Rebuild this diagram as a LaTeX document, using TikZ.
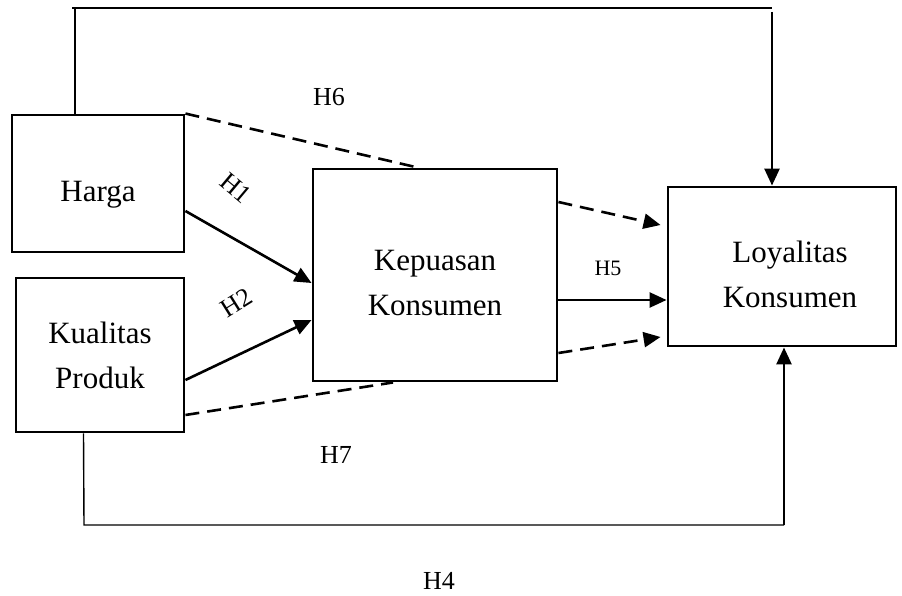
\documentclass[tikz,border=0pt]{standalone}
\usepackage{fontspec}
\setmainfont{Liberation Serif}
\usetikzlibrary{arrows.meta,calc}
% box caption: lowered by #1 pt without changing the box size
\newcommand\bxlabel[2]{\raisebox{-#1pt}[\height][\depth]{\begin{tabular}{@{}c@{}}#2\end{tabular}}}
\begin{document}
\begin{tikzpicture}[x=1pt,y=-1pt,
  box/.style={draw,line width=2.9pt,inner sep=0pt,font=\fontsize{31}{45}\selectfont},
  link/.style={line width=2.6pt,-{Triangle[length=17pt,width=15pt]}},
  dlink/.style={link,dash pattern=on 14pt off 8pt},
  dline/.style={line width=2.6pt,dash pattern=on 14pt off 8pt},
  rail/.style={line width=1.4pt},
  hyp/.style={font=\fontsize{26}{30}\selectfont}]
\useasboundingbox (0,0) rectangle (902,596);

% variables
\node[box,minimum width=172pt,minimum height=137pt] (harga) at (98,183.5) {\bxlabel{9.5}{Harga}};
\node[box,minimum width=168pt,minimum height=154pt] (kualitas) at (100,355) {\bxlabel{2}{Kualitas\\Produk}};
\node[box,minimum width=244pt,minimum height=212pt] (kepuasan) at (435,275) {\bxlabel{8.5}{Kepuasan\\Konsumen}};
\node[box,minimum width=228pt,minimum height=159pt] (loyalitas) at (782,266.5) {\hspace*{16pt}\bxlabel{9}{Loyalitas\\Konsumen}};

% direct paths
\draw[link] ([yshift=-27.5pt]harga.east) -- ([yshift=-8pt]kepuasan.west);
\draw[link] ([yshift=-25pt]kualitas.east) -- ([yshift=-45pt]kepuasan.west);
\draw[link] ([yshift=-25pt]kepuasan.east) -- ([yshift=-33.5pt]loyalitas.west);

% mediated paths (dashed)
\draw[dline] (harga.north east) -- ($(kepuasan.north west)!0.43!(kepuasan.north east)$);
\draw[dlink] ([yshift=73pt]kepuasan.east) -- ([xshift=-6pt,yshift=41.5pt]loyalitas.west);
\draw[dline] ([yshift=-60pt]kualitas.east) -- ($(kepuasan.south west)!0.33!(kepuasan.south east)$);
\draw[dlink] ([yshift=-78pt]kepuasan.east) -- ([xshift=-6pt,yshift=-70.5pt]loyalitas.west);

% outer paths
\coordinate (tl) at (75,8);
\coordinate (tr) at (772,8);
\draw[rail] ([xshift=-23pt]harga.north) -- (tl);
\draw[line width=2pt] ([xshift=-3pt]tl) -- (tr);
\draw[link] ([yshift=-4pt]tr) -- ([xshift=-10pt]loyalitas.north);

\coordinate (bl) at (84,525);
\coordinate (br) at (784,525);
\draw[rail] ([xshift=-16.5pt]kualitas.south) -- (bl) -- (br);
\draw[link] (br) -- ([xshift=2pt]loyalitas.south);

% hypothesis labels
\node[hyp,rotate=-40] (h1) at (236,188) {H1};
\node[hyp,rotate=32] (h2) at (236,303) {H2};
\node[hyp,font=\fontsize{22}{26}\selectfont] (h5) at (608,268) {H5};
\node[hyp] (h6) at (329,97) {H6};
\node[hyp] (h7) at (336,455) {H7};
\node[hyp] (h4) at (439,581) {H4};
\end{tikzpicture}
\end{document}
